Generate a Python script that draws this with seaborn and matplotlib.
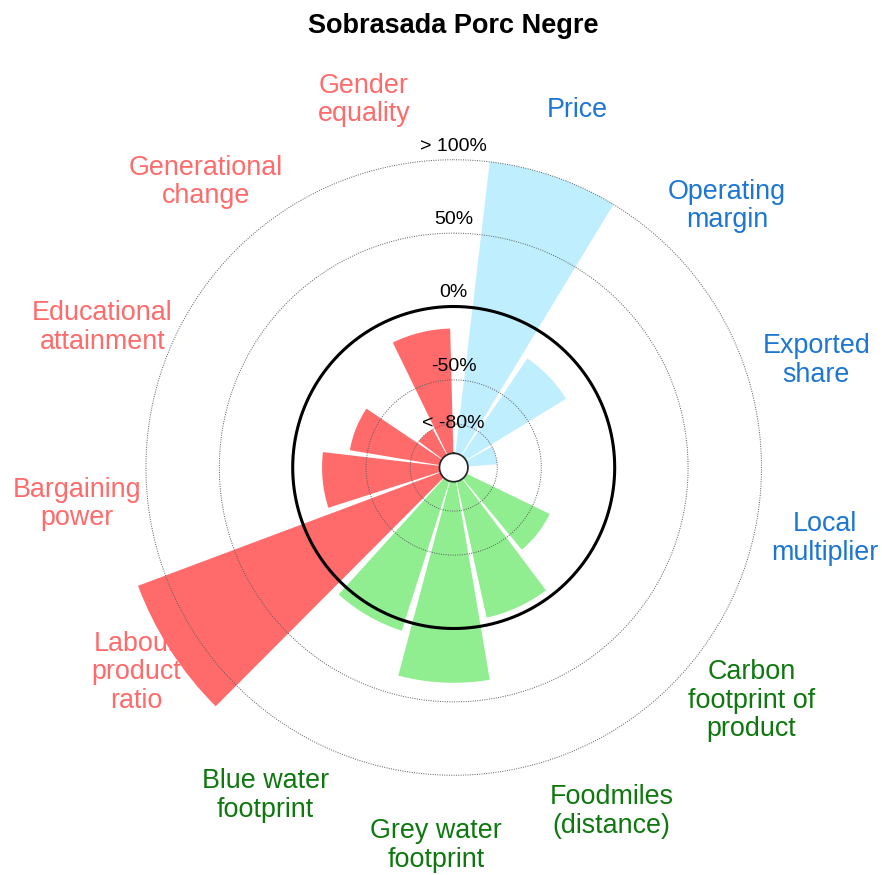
import numpy as np
import pandas as pd
import matplotlib
matplotlib.use("Agg")
import matplotlib.pyplot as plt
import seaborn as sns

# ---- data ----
categories = ["Price", "Operating\nmargin", "Exported\nshare", "Local\nmultiplier",
              "Carbon\nfootprint of\nproduct", "Foodmiles\n(distance)", "Grey water\nfootprint",
              "Blue water\nfootprint", "Labour\nproduct\nratio", "Bargaining\npower",
              "Educational\nattainment", "Generational\nchange", "Gender\nequality"]
groups = ["Economic", "Economic", "Economic", "Economic",
          "Environmental", "Environmental", "Environmental", "Environmental",
          "Social", "Social", "Social", "Social", "Social"]
values = [100, -20, -80, np.nan, -37, -5, 37, 7, 120, -20, -38, -80, -15]  # percent
tick_values = [-80, -50, 0, 50, 100]
tick_labels = ["< -80%", "-50%", "0%", "50%", "> 100%"]
title = "Sobrasada Porc Negre"

bar_colors = {"Economic": "#BFEFFF", "Environmental": "#90EE90", "Social": "#FF6B6B"}
text_colors = {"Economic": "#1C76D2", "Environmental": "#0E780E", "Social": "#FF6B6B"}

sns.set_theme(style="white")
plt.rcParams["font.family"] = ["Liberation Sans", "DejaVu Sans"]

BASE = 100.0  # bars start at -100%
n = len(categories)
step = 2 * np.pi / (n + 0.2)
theta0 = np.deg2rad(19.0)
theta = theta0 + step * np.arange(n)

df = pd.DataFrame({"theta": theta, "h": np.array(values, dtype=float) + BASE,
                   "group": groups, "label": categories})

fig = plt.figure(figsize=(8.82, 8.75), dpi=100)
R_px = 351.8
cx, cy = 453.7, 467.5
W, H = 882, 875
ax = fig.add_axes([(cx - R_px) / W, (H - cy - R_px) / H, 2 * R_px / W, 2 * R_px / H],
                  projection="polar")
ax.set_theta_zero_location("N")
ax.set_theta_direction(-1)

sns.barplot(data=df.dropna(subset=["h"]), x="theta", y="h", hue="group",
            palette=bar_colors, native_scale=True, dodge=False, width=0.9,
            saturation=1, linewidth=0, errorbar=None, legend=False, ax=ax, zorder=1)

top = 130 + BASE
ax.set_ylim(0, top)
ax.set_rorigin(-9.7)
ax.set_xlim(0, 2 * np.pi)
ax.set_xticks([])
ax.set_yticks([])
ax.set_xlabel("")
ax.set_ylabel("")
ax.grid(False)
for sp in ax.spines.values():
    sp.set_visible(False)
ax.patch.set_alpha(0)

circ = np.linspace(0, 2 * np.pi, 720)
for tv, tl in zip(tick_values, tick_labels):
    r = tv + BASE
    if tv == 0:
        ax.plot(circ, np.full_like(circ, r), color="black", lw=2.2, zorder=3)
    else:
        ax.plot(circ, np.full_like(circ, r), color="#5a5a5a", lw=0.7,
                linestyle=(0, (1, 1.4)), zorder=3)
    off = 9.3 if tv > -80 else 0.6
    ax.text(0, r + off, tl, ha="center", va="center", fontsize=14, color="black",
            zorder=4, clip_on=False)

label_r = 148 + BASE
for _, row in df.iterrows():
    ax.text(row["theta"], label_r, row["label"], ha="center", va="center",
            fontsize=19.4, color=text_colors[row["group"]], linespacing=1.13,
            clip_on=False, multialignment="center")

fig.text(453.3 / W, 1 - 33 / H, title, ha="center", va="baseline",
         fontsize=19.5, fontweight="bold", color="black")

fig.savefig("out.png", dpi=100, facecolor="white")
